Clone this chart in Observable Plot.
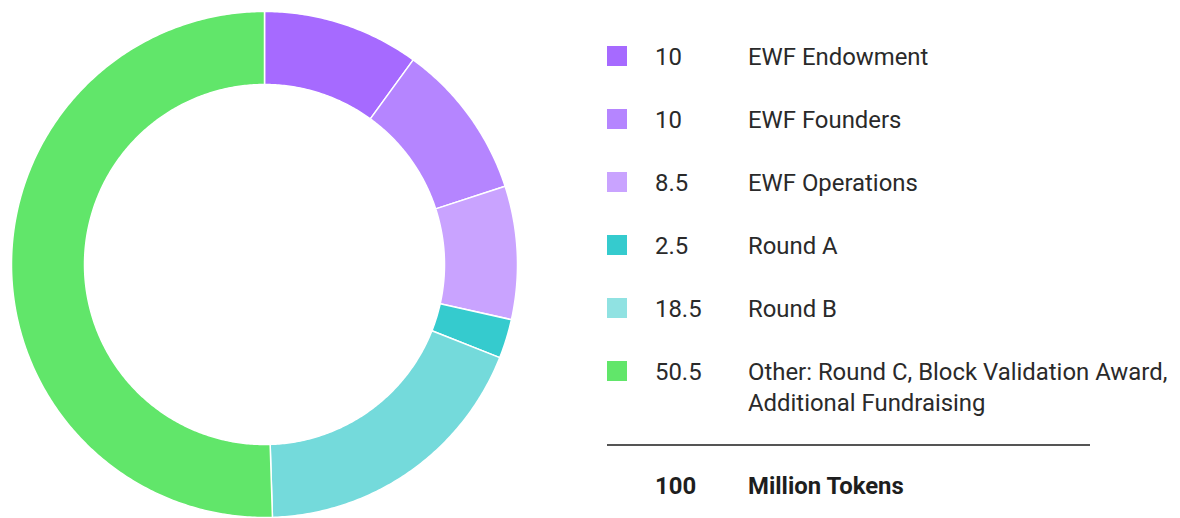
<!DOCTYPE html>
<html>
<head>
<meta charset="utf-8">
<script src="https://cdn.jsdelivr.net/npm/d3@7"></script>
<script src="https://cdn.jsdelivr.net/npm/@observablehq/plot@0.6"></script>
<style>
  html, body { margin: 0; padding: 0; background: #fff; }
  #wrap { position: relative; width: 1180px; height: 518px; overflow: hidden; font-family: Roboto, "Noto Sans", sans-serif; color: #2a2a2a; }
  #chart { position: absolute; left: 0; top: 0; }
  #legend { position: absolute; left: 607px; top: 41.5px; width: 573px; }
  .row { display: flex; align-items: flex-start; font-size: 23.9px; line-height: 31px; margin-bottom: 32px; }
  .sw { width: 20px; height: 20px; margin-top: 4.5px; flex: none; }
  .num { width: 93px; margin-left: 28px; flex: none; }
  .lab { width: 440px; }
  .sep { width: 483px; height: 0; border-top: 2px solid #555; margin-top: -7px; }
  .total { display: flex; font-size: 23.9px; line-height: 31px; font-weight: 700; margin-top: 25px; color: #1e1e1e; }
  .total .num { margin-left: 48px; }
</style>
</head>
<body>
<div id="wrap">
  <div id="chart"></div>
  <div id="legend"></div>
</div>
<script>
const categories = ["EWF Endowment", "EWF Founders", "EWF Operations", "Round A", "Round B", "Other: Round C, Block Validation Award, Additional Fundraising"];
const values = [10, 10, 8.5, 2.5, 18.5, 50.5];
const valueLabels = ["10", "10", "8.5", "2.5", "18.5", "50.5"];
const sliceColors = ["#a66aff", "#b585ff", "#c9a3ff", "#35cbce", "#74dadb", "#61e66a"];
const legendColors = ["#a66aff", "#b585ff", "#c9a3ff", "#35cbce", "#90e2e2", "#61e66a"];
const totalValue = "100";
const totalLabel = "Million Tokens";

const W = 530, H = 518;
const outerR = 253, innerR = 180;

const pie = d3.pie().sort(null).value(d => d.value).startAngle(0).endAngle(2 * Math.PI);
const table = categories.map((c, i) => ({name: c, value: values[i], color: sliceColors[i]}));
const arcs = pie(table);

const pts = [];
arcs.forEach(a => {
  const n = Math.max(8, Math.ceil((a.endAngle - a.startAngle) / 0.01));
  for (let k = 0; k <= n; k++) {
    const t = a.startAngle + (a.endAngle - a.startAngle) * k / n;
    pts.push({name: a.data.name, color: a.data.color, x: outerR * Math.sin(t), y: outerR * Math.cos(t)});
  }
  for (let k = n; k >= 0; k--) {
    const t = a.startAngle + (a.endAngle - a.startAngle) * k / n;
    pts.push({name: a.data.name, color: a.data.color, x: innerR * Math.sin(t), y: innerR * Math.cos(t)});
  }
});

const plot = Plot.plot({
  width: W, height: H,
  margin: 0,
  x: {domain: [-264, 266], axis: null},
  y: {domain: [-254, 264], axis: null},
  marks: [
    Plot.line(pts, {x: "x", y: "y", z: "name", fill: "color", stroke: "white", strokeWidth: 1.5, curve: "linear-closed"})
  ]
});
document.getElementById("chart").appendChild(plot);

const legend = document.getElementById("legend");
categories.forEach((c, i) => {
  const row = document.createElement("div");
  row.className = "row";
  row.innerHTML = `<div class="sw" style="background:${legendColors[i]}"></div><div class="num">${valueLabels[i]}</div><div class="lab">${c}</div>`;
  legend.appendChild(row);
});
const sep = document.createElement("div");
sep.className = "sep";
legend.appendChild(sep);
const tot = document.createElement("div");
tot.className = "total";
tot.innerHTML = `<div class="num">${totalValue}</div><div class="lab">${totalLabel}</div>`;
legend.appendChild(tot);
</script>
</body>
</html>
